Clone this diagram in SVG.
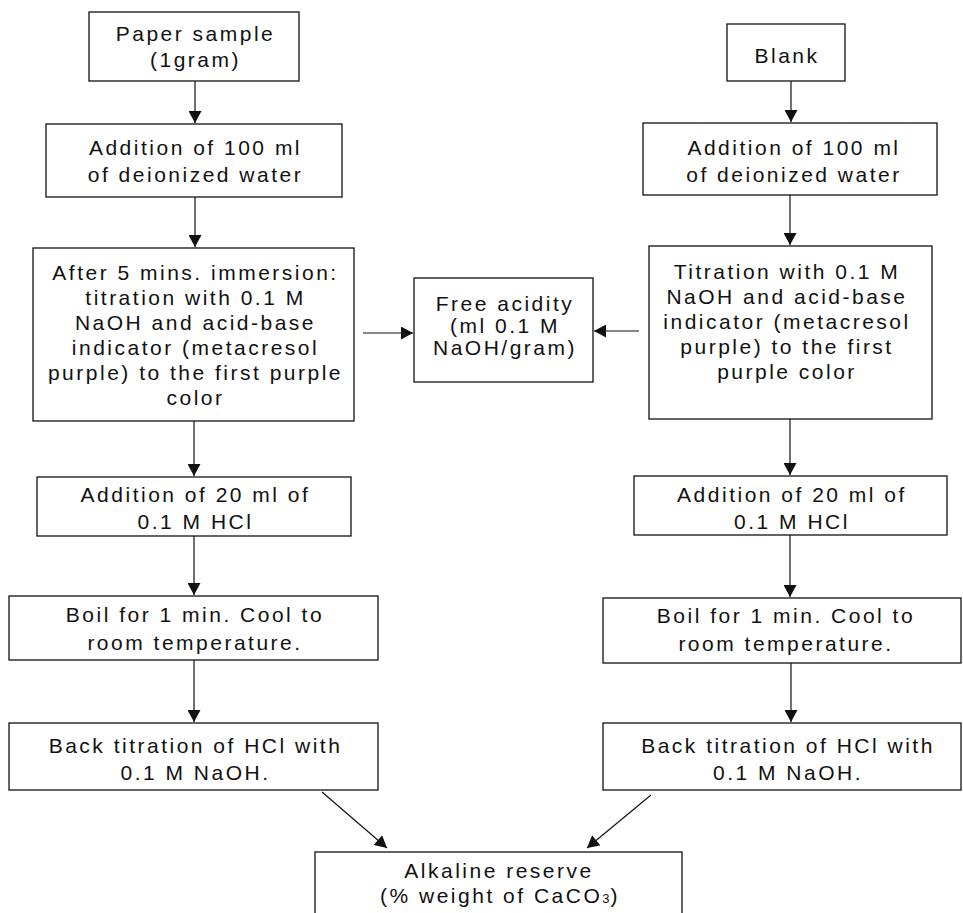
<svg xmlns="http://www.w3.org/2000/svg" width="963" height="913" viewBox="0 0 963 913">
<style>
.box{fill:#fff;stroke:#111;stroke-width:1.3}
.t{font-family:"Liberation Sans",Arial,Helvetica,sans-serif;font-size:21px;letter-spacing:2.5px;text-anchor:middle;fill:#111}
.c{stroke:#111;stroke-width:1.2;fill:none;marker-end:url(#ah)}
</style>
<defs>
<marker id="ah" markerUnits="userSpaceOnUse" markerWidth="13" markerHeight="13" viewBox="0 0 12 13" refX="12" refY="6.5" orient="auto">
<path d="M0,0 L12,6.5 L0,13 z" fill="#111"/>
</marker>
</defs>
<rect width="963" height="913" fill="#fff"/>
<g id="connectors">
<line class="c" x1="195" y1="81" x2="195" y2="123"/>
<line class="c" x1="195" y1="197" x2="195" y2="247"/>
<line class="c" x1="194" y1="421" x2="194" y2="476"/>
<line class="c" x1="194" y1="536" x2="194" y2="595"/>
<line class="c" x1="194" y1="660" x2="194" y2="722"/>
<line class="c" x1="322" y1="792" x2="387" y2="848"/>
<line class="c" x1="791" y1="81" x2="791" y2="122"/>
<line class="c" x1="790" y1="195" x2="790" y2="245"/>
<line class="c" x1="790" y1="419" x2="790" y2="475"/>
<line class="c" x1="790" y1="535" x2="790" y2="597"/>
<line class="c" x1="791" y1="663" x2="791" y2="722"/>
<line class="c" x1="651" y1="795" x2="587" y2="848"/>
<line class="c" x1="363" y1="333" x2="413" y2="333"/>
<line class="c" x1="639" y1="331" x2="594" y2="331"/>
</g>
<g id="paper-sample">
<rect class="box" x="89" y="12" width="210" height="69"/>
<text class="t" x="195.5" y="41">Paper sample</text>
<text class="t" x="195.5" y="67">(1gram)</text>
</g>
<g id="add-water-left">
<rect class="box" x="46" y="124" width="296" height="73"/>
<text class="t" x="195.5" y="155">Addition of 100 ml</text>
<text class="t" x="195.5" y="182">of deionized water</text>
</g>
<g id="titration-left">
<rect class="box" x="33" y="248" width="321" height="173"/>
<text class="t" x="195.5" y="280">After 5 mins. immersion:</text>
<text class="t" x="195.5" y="305">titration with 0.1 M</text>
<text class="t" x="195.5" y="330">NaOH and acid-base</text>
<text class="t" x="195.5" y="355">indicator (metacresol</text>
<text class="t" x="195.5" y="380">purple) to the first purple</text>
<text class="t" x="195.5" y="405">color</text>
</g>
<g id="add-hcl-left">
<rect class="box" x="37" y="477" width="314" height="59"/>
<text class="t" x="195.5" y="502">Addition of 20 ml of</text>
<text class="t" x="195.5" y="529">0.1 M HCl</text>
</g>
<g id="boil-left">
<rect class="box" x="9" y="596" width="369" height="64"/>
<text class="t" x="195" y="622">Boil for 1 min. Cool to</text>
<text class="t" x="195" y="650">room temperature.</text>
</g>
<g id="back-left">
<rect class="box" x="9" y="723" width="369" height="67"/>
<text class="t" x="195.5" y="753">Back titration of HCl with</text>
<text class="t" x="195.5" y="780">0.1 M NaOH.</text>
</g>
<g id="free-acidity">
<rect class="box" x="414" y="278" width="179" height="104"/>
<text class="t" x="505" y="311">Free acidity</text>
<text class="t" x="505" y="333">(ml 0.1 M</text>
<text class="t" x="505" y="355">NaOH/gram)</text>
</g>
<g id="blank">
<rect class="box" x="727" y="24" width="118" height="57"/>
<text class="t" x="787" y="63">Blank</text>
</g>
<g id="add-water-right">
<rect class="box" x="643" y="123" width="294" height="72"/>
<text class="t" x="794" y="155">Addition of 100 ml</text>
<text class="t" x="794" y="182">of deionized water</text>
</g>
<g id="titration-right">
<rect class="box" x="649" y="246" width="283" height="173"/>
<text class="t" x="787" y="279">Titration with 0.1 M</text>
<text class="t" x="787" y="304">NaOH and acid-base</text>
<text class="t" x="787" y="329">indicator (metacresol</text>
<text class="t" x="787" y="354">purple) to the first</text>
<text class="t" x="787" y="379">purple color</text>
</g>
<g id="add-hcl-right">
<rect class="box" x="634" y="476" width="313" height="59"/>
<text class="t" x="792" y="502">Addition of 20 ml of</text>
<text class="t" x="792" y="529">0.1 M HCl</text>
</g>
<g id="boil-right">
<rect class="box" x="603" y="598" width="358" height="65"/>
<text class="t" x="786" y="623">Boil for 1 min. Cool to</text>
<text class="t" x="786" y="651">room temperature.</text>
</g>
<g id="back-right">
<rect class="box" x="603" y="723" width="358" height="67"/>
<text class="t" x="788" y="753">Back titration of HCl with</text>
<text class="t" x="788" y="780">0.1 M NaOH.</text>
</g>
<g id="alkaline-reserve">
<rect class="box" x="315" y="852" width="367" height="80"/>
<text class="t" x="499" y="878">Alkaline reserve</text>
<text class="t" x="500" y="903">(% weight of CaCO<tspan font-size="13" letter-spacing="1">3</tspan>)</text>
</g>
</svg>
